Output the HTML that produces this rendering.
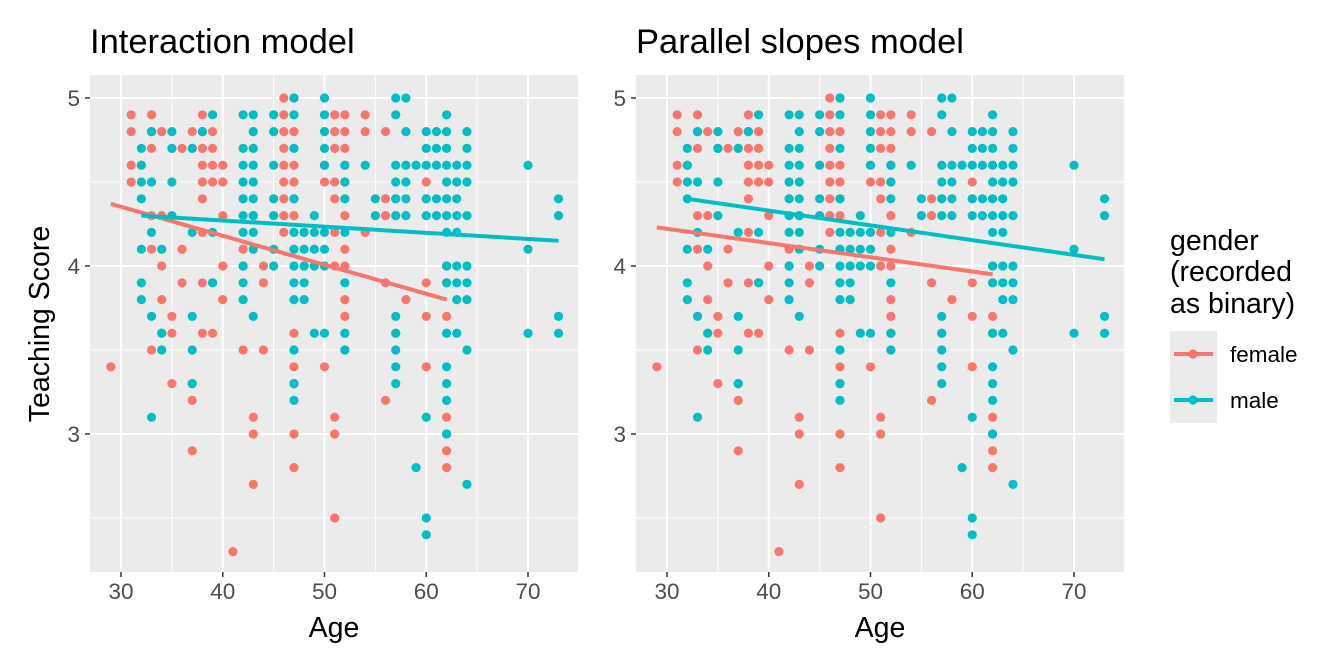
<!DOCTYPE html>
<html><head><meta charset="utf-8"><style>
body{margin:0;background:#fff;}
svg{display:block;font-family:"Liberation Sans",sans-serif;}
</style></head><body>
<svg id="s" width="1344" height="672" xmlns="http://www.w3.org/2000/svg"></svg>
<script>
const F={29:[3.4],31:[4.9,4.8,4.6,4.5],32:[4.6],33:[4.9,4.8,4.7,4.3,4.1,3.5],34:[4.8,4.3,4.0,3.8,3.6],35:[4.7,3.7,3.6,3.3],36:[4.7,4.1,3.9],37:[4.8,4.7,3.3,3.2,2.9],38:[4.9,4.8,4.7,4.6,4.5,4.4,4.2,3.9,3.6],39:[4.8,4.7,4.6,4.5,3.9,3.6],40:[4.6,4.5,4.3,4.0,3.8],41:[2.3],42:[4.4,4.1,4.0,3.5],43:[4.3,3.1,3.0,2.7],44:[4.0,3.9,3.5],46:[5.0,4.9,4.8,4.7,4.6,4.5,4.4,4.3,4.2],47:[5.0,4.8,4.6,4.5,4.4,4.3,4.1,3.6,3.4,3.3,3.0,2.8],48:[4.2,4.0],50:[4.6,4.5,3.4],51:[4.9,4.8,4.7,4.5,4.4,4.2,4.0,3.1,3.0,2.5],52:[4.9,4.8,4.7,4.6,4.5,4.3,4.1,4.0,3.8,3.7,3.6,3.5],54:[4.9,4.8,4.2],56:[4.8,4.4,4.3,3.9,3.2],57:[4.4,3.6],58:[3.8],60:[4.5,4.4,3.9,3.7,3.4],62:[4.0,3.9,3.7,3.6,3.1,3.0,2.9,2.8]};
const M={32:[4.7,4.6,4.5,4.4,4.1,3.9,3.8],33:[4.8,4.5,4.2,3.7,3.1],34:[4.1,3.6,3.5],35:[4.8,4.7,4.5,4.3],37:[4.7,4.2,3.7,3.5,3.3],38:[4.8],39:[4.9,4.2,3.9],42:[4.9,4.7,4.6,4.5,4.4,4.3,4.2,4.0,3.9,3.8],43:[4.9,4.8,4.7,4.6,4.5,4.4,4.3,4.2,4.1,3.7],45:[4.9,4.8,4.6,4.4,4.3,4.1,4.0],47:[5.0,4.9,4.7,4.4,4.2,4.1,4.0,3.9,3.8,3.5,3.3,3.2],48:[4.2,4.1,4.0,3.9,3.8],49:[4.3,4.2,4.1,4.0,3.6],50:[5.0,4.9,4.8,4.7,4.6,4.2,4.1,4.0,3.6],52:[4.6,4.5,4.4,4.2,3.9,3.6,3.5],54:[4.6],55:[4.4,4.3],57:[5.0,4.9,4.6,4.5,4.4,4.3,3.7,3.6,3.5,3.4,3.3],58:[5.0,4.8,4.6,4.5,4.4,4.3],59:[4.6,2.8],60:[4.8,4.7,4.6,4.4,4.3,3.1,2.5,2.4],61:[4.8,4.7,4.6,4.4,4.3],62:[4.9,4.8,4.7,4.6,4.5,4.4,4.3,4.2,4.0,3.9,3.6,3.4,3.3,3.2,3.0],63:[4.6,4.5,4.4,4.3,4.2,4.0,3.9,3.8,3.6],64:[4.8,4.7,4.6,4.5,4.3,4.0,3.9,3.8,3.5,2.7],70:[4.6,4.1,3.6],73:[4.4,4.3,3.7,3.6]};
const R="#f8766d",C="#00bfc4";
let h='';
const Y=v=>266-(v-4)*168;
function panel(x0,x30,title,lines){
  const X=a=>x30+(a-30)*10.175;
  h+=`<rect x="${x0}" y="75" width="488" height="497" fill="#ebebeb"/>`;
  for(const v of [2.5,3.5,4.5]) h+=`<line x1="${x0}" x2="${x0+488}" y1="${Y(v)}" y2="${Y(v)}" stroke="#fff" stroke-width="1"/>`;
  for(const a of [35,45,55,65]) h+=`<line y1="75" y2="572" x1="${X(a)}" x2="${X(a)}" stroke="#fff" stroke-width="1"/>`;
  for(const v of [3,4,5]){h+=`<line x1="${x0}" x2="${x0+488}" y1="${Y(v)}" y2="${Y(v)}" stroke="#fff" stroke-width="2"/>`;
    h+=`<line x1="${x0-5}" x2="${x0}" y1="${Y(v)}" y2="${Y(v)}" stroke="#333" stroke-width="1.5"/><text x="${x0-10}" y="${Y(v)+8}" font-size="22.5" fill="#4d4d4d" text-anchor="end">${v}</text>`;}
  for(const a of [30,40,50,60,70]){h+=`<line y1="75" y2="572" x1="${X(a)}" x2="${X(a)}" stroke="#fff" stroke-width="2"/>`;
    h+=`<line y1="572" y2="577" x1="${X(a)}" x2="${X(a)}" stroke="#333" stroke-width="1.5"/><text x="${X(a)}" y="599" font-size="22.5" fill="#4d4d4d" text-anchor="middle">${a}</text>`;}
  for(const [d,c] of [[F,R],[M,C]]) for(const a in d) for(const v of d[a]) h+=`<circle cx="${X(+a)}" cy="${Y(v)}" r="4.6" fill="${c}"/>`;
  for(const l of lines) h+=`<line x1="${X(l[0])}" y1="${Y(l[1])}" x2="${X(l[2])}" y2="${Y(l[3])}" stroke="${l[4]}" stroke-width="4"/>`;
  h+=`<text x="${x0}" y="53" font-size="34.5" fill="#000">${title}</text>`;
  h+=`<text x="${x0+244}" y="637" font-size="28.5" text-anchor="middle" fill="#000">Age</text>`;
}
panel(90,121,"Interaction model",[[29,4.37,62,3.80,R],[32,4.30,73,4.15,C]]);
panel(636,667,"Parallel slopes model",[[29,4.23,62,3.95,R],[32,4.40,73,4.04,C]]);
h+=`<text transform="translate(49,324) rotate(-90)" font-size="28.5" text-anchor="middle">Teaching Score</text>`;
h+=`<text x="1170" y="250" font-size="28.5">gender</text><text x="1170" y="281" font-size="28.5">(recorded</text><text x="1170" y="313" font-size="28.5">as binary)</text>`;
h+=`<rect x="1170" y="331" width="47" height="92" fill="#ebebeb"/>`;
h+=`<line x1="1174" x2="1213" y1="354" y2="354" stroke="${R}" stroke-width="4"/><circle cx="1193" cy="354" r="4.6" fill="${R}"/>`;
h+=`<line x1="1174" x2="1213" y1="400" y2="400" stroke="${C}" stroke-width="4"/><circle cx="1193" cy="400" r="4.6" fill="${C}"/>`;
h+=`<text x="1230" y="362" font-size="22.5">female</text><text x="1230" y="408" font-size="22.5">male</text>`;
document.getElementById('s').innerHTML=h;
</script>
</body></html>
